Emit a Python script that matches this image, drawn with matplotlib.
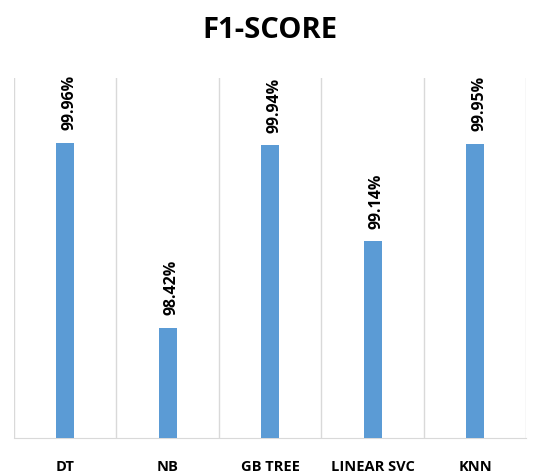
import matplotlib.pyplot as plt

models = ['DT', 'NB', 'GB TREE', 'LINEAR SVC', 'KNN']
f1_scores = [99.96, 98.42, 99.94, 99.14, 99.95]
bar_color = '#5B9BD5'

plt.rcParams['font.family'] = ['Open Sans', 'DejaVu Sans']

fig = plt.figure(figsize=(5.54, 4.75), dpi=100)
ax = fig.add_axes([0.025, 0.078, 0.925, 0.758])

x = list(range(len(models)))
ax.bar(x, f1_scores, width=0.175, color=bar_color, zorder=3)

ax.set_ylim(97.5, 100.5)
ax.set_xlim(-0.5, len(models) - 0.5)

# vertical separators between categories
for b in [i - 0.5 for i in range(len(models) + 1)]:
    ax.axvline(b, color='#D9D9D9', lw=1, zorder=1)

for xi, v in zip(x, f1_scores):
    ax.annotate(f'{v:.2f}%', (xi, v), xytext=(3, 9), textcoords='offset points',
                rotation=90, ha='center', va='bottom', fontsize=11.5,
                fontweight='bold', color='#000000')

ax.set_xticks(x)
ax.set_xticklabels(models, fontsize=10.5, fontweight='bold')
ax.tick_params(axis='x', length=0, pad=16)
ax.set_yticks([])
for side in ['top', 'right', 'left']:
    ax.spines[side].set_visible(False)
ax.spines['bottom'].set_color('#D9D9D9')

fig.text(0.488, 0.935, 'F1-SCORE', ha='center', va='center', fontsize=21,
         fontweight='bold')

fig.savefig('out.png', dpi=100)
